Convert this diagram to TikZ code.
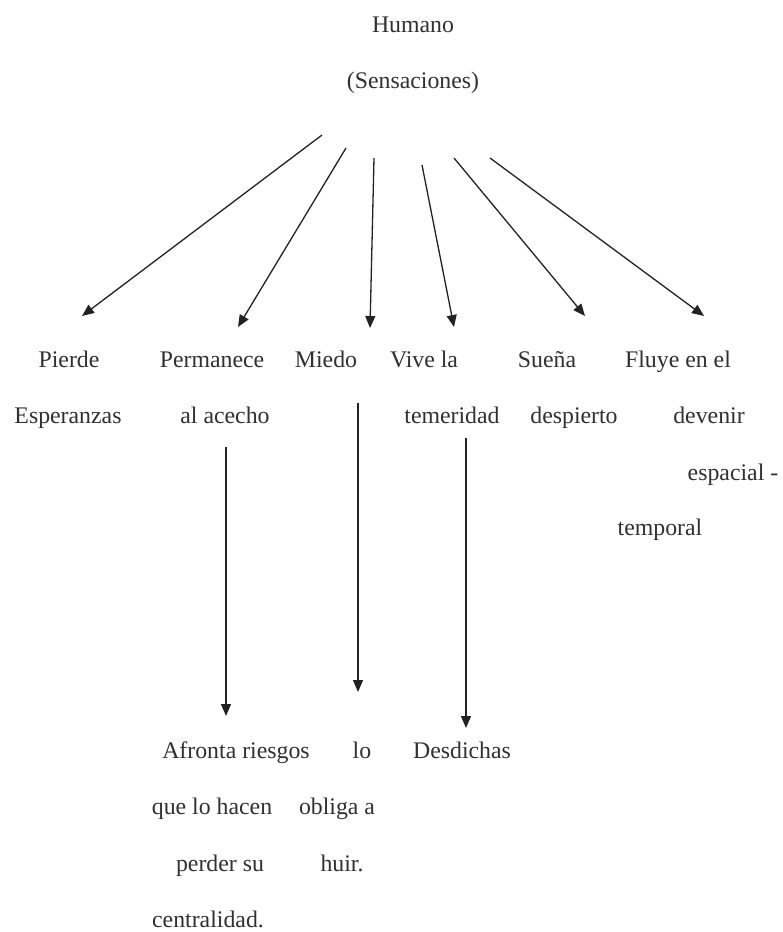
\documentclass[tikz,border=0pt]{standalone}
\usepackage{fontspec}
\setmainfont{Liberation Serif}
\usetikzlibrary{arrows.meta}
\definecolor{txt}{HTML}{303030}
\definecolor{ln}{HTML}{222222}
\tikzset{
  lbl/.style={text=txt,font=\fontsize{23.8}{28}\selectfont,inner sep=0pt,anchor=base},
  arr/.style={draw=ln,line width=1.3pt,-{Triangle[length=12pt,width=10pt]}}
}
\begin{document}
\begin{tikzpicture}[x=1pt,y=-1pt]
\useasboundingbox (0,0) rectangle (783,932);
% texts
\node[lbl] (hum) at (413,32) {Humano};
\node[lbl] (sen) at (413,88) {(Sensaciones)};
\node[lbl] (pie1) at (69,367) {Pierde};
\node[lbl] (pie2) at (68,423) {Esperanzas};
\node[lbl] (per1) at (212,367) {Permanece};
\node[lbl] (per2) at (225,423) {al acecho};
\node[lbl] (mie) at (326,367) {Miedo};
\node[lbl] (viv1) at (424,367) {Vive la};
\node[lbl] (viv2) at (452,423) {temeridad};
\node[lbl] (sue1) at (547,367) {Sueña};
\node[lbl] (sue2) at (574,423) {despierto};
\node[lbl] (flu1) at (678,367) {Fluye en el};
\node[lbl] (flu2) at (709,423) {devenir};
\node[lbl] (flu3) at (733,480) {espacial -};
\node[lbl] (flu4) at (660,535) {temporal};
\node[lbl] (afr1) at (236,758) {Afronta riesgos};
\node[lbl] (afr2) at (212,814) {que lo hacen};
\node[lbl] (afr3) at (220,871) {perder su};
\node[lbl] (afr4) at (208,927) {centralidad.};
\node[lbl] (lo1) at (362,758) {lo};
\node[lbl] (lo2) at (337,814) {obliga a};
\node[lbl] (lo3) at (342,871) {huir.};
\node[lbl] (des) at (462,758) {Desdichas};
% arrow ends
\coordinate (a1s) at (322,135); \coordinate (a1e) at (82,316);
\coordinate (a2s) at (346,148); \coordinate (a2e) at (238,327);
\coordinate (a3s) at (374,158); \coordinate (a3e) at (370,328);
\coordinate (a4s) at (422,165); \coordinate (a4e) at (454,327);
\coordinate (a5s) at (454,158); \coordinate (a5e) at (585,316);
\coordinate (a6s) at (490,158); \coordinate (a6e) at (704,316);
\coordinate (b1s) at (226,447); \coordinate (b1e) at (226,716);
\coordinate (b2s) at (358,403); \coordinate (b2e) at (358,692);
\coordinate (b3s) at (466,438); \coordinate (b3e) at (466,728);
\foreach \i in {a1,a2,a3,a4,a5,a6,b1,b2,b3}
  \draw[arr] (\i s) -- (\i e);
\end{tikzpicture}
\end{document}
